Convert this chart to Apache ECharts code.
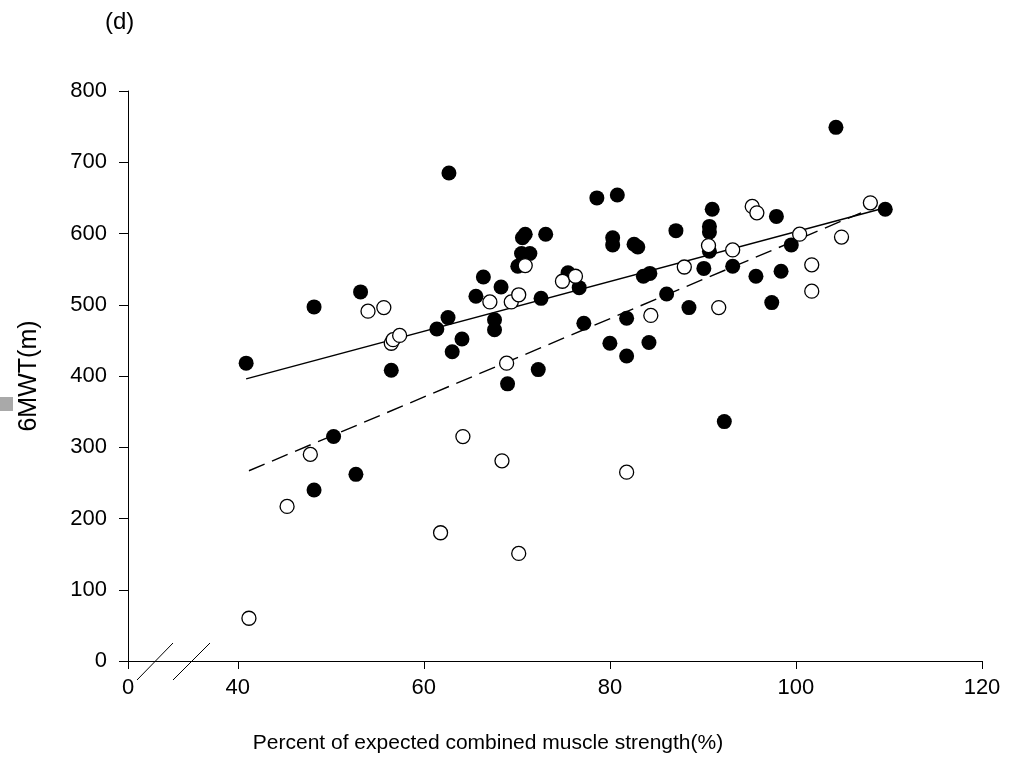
<!DOCTYPE html>
<html>
<head>
<meta charset="utf-8">
<style>
  html, body { margin: 0; padding: 0; background: #fff; }
  #chart { width: 1014px; height: 769px; }
</style>
<script src="https://cdn.jsdelivr.net/npm/echarts@6/dist/echarts.min.js"></script>
</head>
<body>
<div id="chart"></div>
<script>
// Percent of expected combined muscle strength (%) vs six-minute walk distance (m)

// Group A (filled circles)
const filledX = [40.9, 48.2, 48.2, 50.3, 52.7, 53.2, 56.5, 61.4, 62.7, 62.6,
                 63.05, 64.1, 65.6, 66.4, 67.6, 67.6, 68.3, 69.0, 70.1, 70.5,
                 71.4, 70.6, 70.9, 73.1, 72.3, 72.6, 75.5, 76.7, 77.2, 78.6,
                 80.8, 80.3, 80.3, 80.0, 81.8, 81.8, 82.6, 83.0, 83.6, 84.3,
                 84.2, 86.1, 87.1, 88.5, 90.1, 90.7, 90.7, 90.7, 91.0, 92.3,
                 93.2, 95.7, 97.4, 97.9, 98.4, 99.5, 104.3, 109.6];
const filledY = [418, 497, 240, 315, 262, 518, 408, 466, 685, 482,
                 434, 452, 512, 539, 479, 465, 525, 389, 554, 572,
                 572, 594, 599, 599, 409, 509, 545, 524, 474, 650,
                 654, 594, 584, 446, 481, 428, 585, 581, 540, 544,
                 447, 515, 604, 496, 551, 610, 602, 575, 634, 336,
                 554, 540, 503, 624, 547, 584, 749, 634];

// Group B (open circles)
const openX = [41.2, 45.3, 47.8, 54.0, 55.7, 56.5, 56.7, 57.4, 61.8, 64.2,
               67.1, 68.4, 68.9, 69.4, 70.2, 70.2, 70.9, 74.9, 76.3, 81.8,
               84.4, 88.0, 90.6, 91.7, 93.2, 95.3, 95.8, 100.4, 101.7, 101.7,
               104.9, 108.0];
const openY = [60, 217, 290, 491, 496, 446, 451, 457, 180, 315,
               504, 281, 418, 504, 514, 151, 555, 533, 540, 265,
               485, 553, 583, 496, 577, 638, 629, 599, 556, 519,
               595, 643];

// Fitted lines (end points)
const fitAX = [40.9, 109.0];
const fitAY = [396, 634];
const fitBX = [41.2, 107.0];
const fitBY = [267, 629];

// Axis ticks; the x axis is broken between 0 and 40
const xTicks = [40, 60, 80, 100, 120];
const yTicks = [0, 100, 200, 300, 400, 500, 600, 700, 800];
const X_ORIGIN = 28.2;   // start of the broken x axis, labelled "0"

const pairs = (xs, ys) => xs.map((x, i) => [x, ys[i]]);
const FONT = '"Liberation Sans", Arial, sans-serif';

const chart = echarts.init(document.getElementById('chart'), null, { renderer: 'canvas' });

chart.setOption({
  backgroundColor: '#ffffff',
  animation: false,
  grid: { left: 128, right: 32, top: 91, bottom: 108 },
  xAxis: {
    type: 'value',
    min: X_ORIGIN,
    max: 120,
    splitLine: { show: false },
    axisLine: { onZero: false, lineStyle: { color: '#000', width: 1 } },
    axisTick: { show: true, length: 8, lineStyle: { color: '#000' },
                customValues: [X_ORIGIN].concat(xTicks) },
    axisLabel: {
      color: '#000', fontSize: 22, fontFamily: FONT, margin: 16,
      customValues: [X_ORIGIN].concat(xTicks),
      formatter: v => (Math.abs(v - X_ORIGIN) < 1e-6 ? '0' : String(v))
    }
  },
  yAxis: {
    type: 'value',
    min: 0,
    max: 800,
    interval: 100,
    splitLine: { show: false },
    axisLine: { show: true, lineStyle: { color: '#000', width: 1 } },
    axisTick: { show: true, length: 9, lineStyle: { color: '#000' } },
    axisLabel: { color: '#000', fontSize: 22, fontFamily: FONT, margin: 21,
                 customValues: yTicks },
    name: '6MWT(m)',
    nameLocation: 'middle',
    nameGap: 86,
    nameTextStyle: { color: '#000', fontSize: 25, fontFamily: FONT }
  },
  series: [
    {
      type: 'line',
      data: pairs(fitAX, fitAY),
      symbol: 'none',
      lineStyle: { color: '#000', width: 1.5, type: 'solid' },
      z: 2
    },
    {
      type: 'line',
      data: pairs(fitBX, fitBY),
      symbol: 'none',
      lineStyle: { color: '#000', width: 1.4, type: [17, 8] },
      z: 2
    },
    {
      type: 'scatter',
      data: pairs(filledX, filledY),
      symbol: 'circle',
      symbolSize: 15,
      itemStyle: { color: '#000', borderColor: '#000', borderWidth: 0, opacity: 1 },
      z: 3
    },
    {
      type: 'scatter',
      data: pairs(openX, openY),
      symbol: 'circle',
      symbolSize: 14,
      itemStyle: { color: '#fff', borderColor: '#000', borderWidth: 1.3, opacity: 1 },
      z: 4
    }
  ],
  graphic: [
    { type: 'text', left: 105, top: 10,
      style: { text: '(d)', fill: '#000', font: '24px ' + FONT } },
    { type: 'text', x: 488, y: 743,
      style: { text: 'Percent of expected combined muscle strength(%)', fill: '#000',
               font: '21px ' + FONT, align: 'center', verticalAlign: 'middle' } },
    // axis break marks
    { type: 'line', shape: { x1: 137, y1: 680, x2: 173, y2: 643 },
      style: { stroke: '#000', lineWidth: 1 }, z: 10 },
    { type: 'line', shape: { x1: 173, y1: 680, x2: 210, y2: 643 },
      style: { stroke: '#000', lineWidth: 1 }, z: 10 },
    { type: 'rect', shape: { x: 0, y: 397, width: 13, height: 14 },
      style: { fill: '#a9a9a9' }, z: 10 }
  ]
});
</script>
</body>
</html>
